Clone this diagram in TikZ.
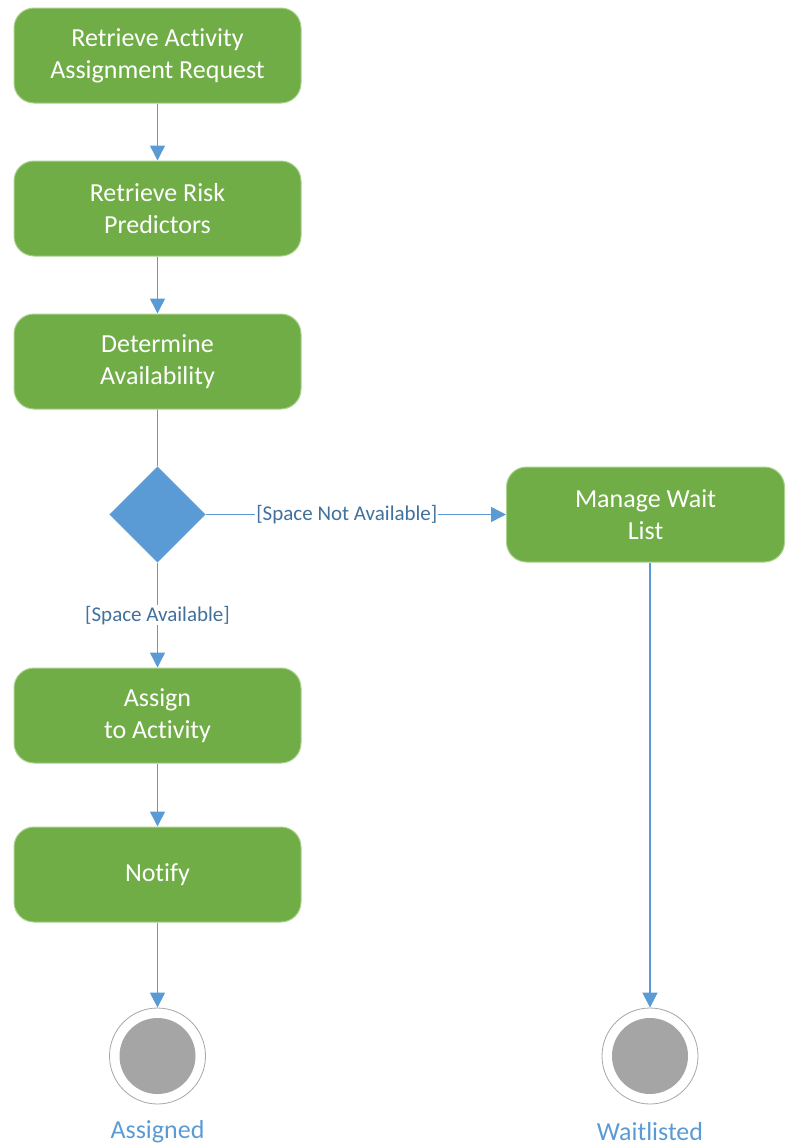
\documentclass[tikz,border=0pt]{standalone}
\usepackage{fontspec}
\setmainfont{Carlito}[Ligatures=NoCommon,RawFeature={-liga;-clig;-calt}]
\usetikzlibrary{arrows.meta,shapes.geometric}
\definecolor{actgreen}{HTML}{70AD47}
\definecolor{actedge}{HTML}{A9D18E}
\definecolor{flowblue}{HTML}{5B9BD5}
\definecolor{guardblue}{HTML}{41719C}
\definecolor{endgray}{HTML}{A5A5A5}
\tikzset{
  activity/.style={draw=actedge, line width=1pt, fill=actgreen, rounded corners=20pt,
    text=white, minimum width=287pt, minimum height=95pt, align=center,
    font=\fontsize{26}{32}\selectfont},
  decision/.style={diamond, draw=flowblue!70, fill=flowblue, minimum width=96pt,
    minimum height=96pt, inner sep=0pt},
  flow/.style={draw=flowblue, line width=1.5pt},
  flowto/.style={flow, -{Triangle[length=15pt,width=15pt]}},
  guard/.style={fill=white, text=guardblue, inner sep=1pt, font=\fontsize{21}{25}\selectfont},
  finalnode/.style={circle, draw=gray!70, fill=white, minimum size=96pt, inner sep=0pt,
    line width=0.8pt, path picture={\fill[endgray] (path picture bounding box.center) circle (38pt);}},
  endlabel/.style={text=flowblue, font=\fontsize{26}{32}\selectfont}
}

\begin{document}
\begin{tikzpicture}[x=1pt,y=-1pt]
\useasboundingbox (0,0) rectangle (785,1146);
% actions
\node[activity] (request) at (157.5,55.5) {Retrieve Activity\\Assignment Request};
\node[activity] (predictors) at (157.5,208.5) {Retrieve Risk\\Predictors};
\node[activity] (availability) at (157.5,361.5) {Determine\\Availability};
\node[decision] (choice) at (157.5,514.5) {};
\node[activity, minimum width=278pt] (waitlist) at (645.5,514.5) {Manage Wait\\List};
\node[activity] (assign) at (157.5,715.5) {Assign\\to Activity};
\node[activity] (notify) at (157.5,874.5) {Notify};
% final states
\node[finalnode] (assigned) at (157.5,1056) {};
\node[finalnode] (waitlisted) at (650,1056) {};
\node[endlabel] (assignedlabel) at (157.5,1132) {Assigned};
\node[endlabel] (waitlistedlabel) at (650,1132) {Waitlisted};
% flows
\draw[flowto] (request) -- (predictors);
\draw[flowto] (predictors) -- (availability);
\draw[flow] (availability) -- (choice);
\draw[flowto] (choice) -- node[guard, pos=0.47] {[Space Not Available]} (waitlist);
\draw[flowto] (choice) -- node[guard] {[Space Available]} (assign);
\draw[flowto] (assign) -- (notify);
\draw[flowto] (notify) -- (assigned);
\draw[flowto] (waitlist.south -| waitlisted) -- (waitlisted);
\end{tikzpicture}
\end{document}
